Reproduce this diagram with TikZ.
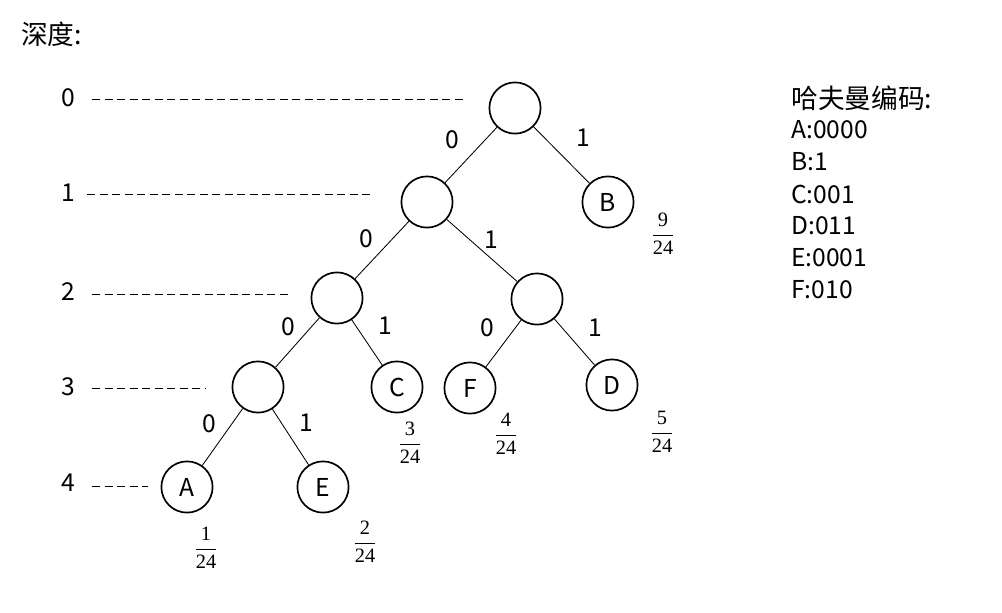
\documentclass[tikz,border=0pt]{standalone}
\usepackage[no-math]{fontspec}
\setmainfont{Noto Sans CJK SC}
\newfontfamily\numfont{Liberation Serif}
\usepackage{amsmath}
\newcommand{\wt}[2]{$\dfrac{\text{#1}}{\text{#2}}$}
\begin{document}
\begin{tikzpicture}[
      x=0.025cm,y=-0.025cm,
      lbl/.style={font=\fontsize{17.5}{20}\selectfont,inner sep=0pt},
      cjk/.style={font=\fontsize{19}{22}\selectfont,inner sep=0pt,anchor=west},
      hnode/.style={circle,draw,line width=1.2pt,minimum size=1.28cm,inner sep=0pt,
                    font=\fontsize{17.5}{20}\selectfont},
      link/.style={line width=0.6pt},
      prob/.style={font=\numfont\fontsize{14.5}{17}\selectfont,inner sep=0pt},
      guide/.style={line width=0.6pt,dash pattern=on 5.7pt off 3.2pt}]
    \useasboundingbox (0,0) rectangle (1002,613);
    % tree
    \node[hnode] (r) at (515,108) {};
    \node[hnode] (n1) at (427,202) {};
    \node[hnode] (B) at (608,202) {B};
    \node[hnode] (n2) at (337,298) {};
    \node[hnode] (n3) at (537,299) {};
    \node[hnode] (n4) at (258,387) {};
    \node[hnode] (C) at (397,387) {C};
    \node[hnode] (F) at (470,388) {F};
    \node[hnode] (D) at (612,385) {D};
    \node[hnode] (A) at (187,487) {A};
    \node[hnode] (E) at (323,487) {E};
    \foreach \p/\c in {r/n1,r/B,n1/n2,n1/n3,n2/n4,n2/C,n3/F,n3/D,n4/A,n4/E}
      \draw[link] (\p) -- (\c);
    % bits on the branches
    \foreach \x/\y/\b [count=\i] in {452/140/0,583/138/1,366/239/0,491/240/1,288/327/0,
        385/326/1,487/328/0,595/328/1,209/424/0,306/423/1}
      \node[lbl] (bit\i) at (\x,\y) {\b};
    % weights
    \node[prob] (pB) at (663,234) {\wt{9}{24}};
    \node[prob] (pC) at (410,443) {\wt{3}{24}};
    \node[prob] (pF) at (506,434) {\wt{4}{24}};
    \node[prob] (pD) at (662,432) {\wt{5}{24}};
    \node[prob] (pA) at (206,548) {\wt{1}{24}};
    \node[prob] (pE) at (365,542) {\wt{2}{24}};
    % depth scale
    \node[cjk] (title) at (21,34) {深度:};
    \foreach \d/\y/\ly/\xs/\xe in {0/98/99/92/467,1/193/194/87/372,2/292/294/92/288,
        3/387/388/92/205,4/483/486/92/148} {
      \node[lbl] (d\d) at (68,\y) {\d};
      \coordinate (s\d) at (\xs,\ly);
      \coordinate (e\d) at (\xe,\ly);
      \draw[guide] (s\d) -- (e\d);
    }
    % codes
    \node[cjk] (codes) at (791,98) {哈夫曼编码:};
    \foreach \t [count=\i] in {A:0000,B:1,C:001,D:011,E:0001,F:010}
      \node[lbl,anchor=west] (c\i) at (791,98+32*\i) {\t};
\end{tikzpicture}
\end{document}
